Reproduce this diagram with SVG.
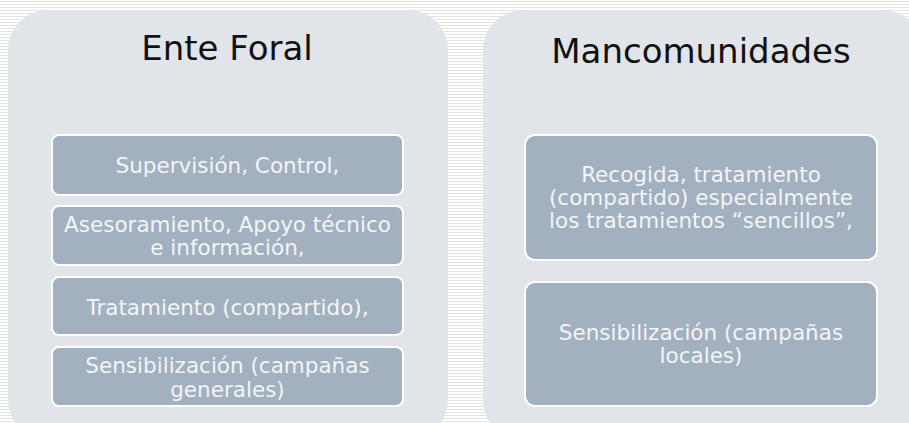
<svg xmlns="http://www.w3.org/2000/svg" width="909" height="423" viewBox="0 0 909 423">
<defs>
<pattern id="stripes" x="0" y="0" width="6" height="3" patternUnits="userSpaceOnUse">
<rect x="0" y="0" width="6" height="3" fill="#ffffff"/>
<rect x="0" y="1" width="6" height="1" fill="#e3e3e3"/>
</pattern>
</defs>
<style>
.panel{fill:#e1e4e8;}
.box{fill:#a2b0bf;stroke:#ffffff;stroke-width:2;}
.title{font-family:"DejaVu Sans",Verdana,sans-serif;font-size:34px;fill:#111111;text-anchor:middle;}
.lbl{font-family:"DejaVu Sans",Verdana,sans-serif;font-size:21.5px;fill:#f3f5f7;text-anchor:middle;}
</style>
<rect x="0" y="0" width="909" height="423" fill="url(#stripes)"/>
<g id="ente-foral">
<rect class="panel" x="8" y="10" width="440" height="430" rx="40"/>
<text class="title" x="227" y="60">Ente Foral</text>
</g>
<g id="mancomunidades">
<rect class="panel" x="483" y="10" width="440" height="430" rx="40"/>
<text class="title" x="701" y="63">Mancomunidades</text>
</g>
<g id="ef-supervision">
<rect class="box" x="52" y="135" width="351" height="60" rx="7"/>
<text class="lbl" x="227.5" y="173">Supervisión, Control,</text>
</g>
<g id="ef-asesoramiento">
<rect class="box" x="52" y="206" width="351" height="59" rx="7"/>
<text class="lbl" x="227.5" y="232">Asesoramiento, Apoyo técnico</text>
<text class="lbl" x="227.5" y="255">e información,</text>
</g>
<g id="ef-tratamiento">
<rect class="box" x="52" y="277" width="351" height="58" rx="7"/>
<text class="lbl" x="227.5" y="315">Tratamiento (compartido),</text>
</g>
<g id="ef-sensibilizacion">
<rect class="box" x="52" y="347" width="351" height="59" rx="7"/>
<text class="lbl" x="227.5" y="373">Sensibilización (campañas</text>
<text class="lbl" x="227.5" y="397">generales)</text>
</g>
<g id="m-recogida">
<rect class="box" x="525" y="135" width="352" height="125" rx="10"/>
<text class="lbl" x="701" y="182">Recogida, tratamiento</text>
<text class="lbl" x="701" y="205">(compartido) especialmente</text>
<text class="lbl" x="701" y="228">los tratamientos “sencillos”,</text>
</g>
<g id="m-sensibilizacion">
<rect class="box" x="525" y="282" width="352" height="124" rx="10"/>
<text class="lbl" x="701" y="340">Sensibilización (campañas</text>
<text class="lbl" x="701" y="363">locales)</text>
</g>
<g id="connectors"></g>
</svg>
